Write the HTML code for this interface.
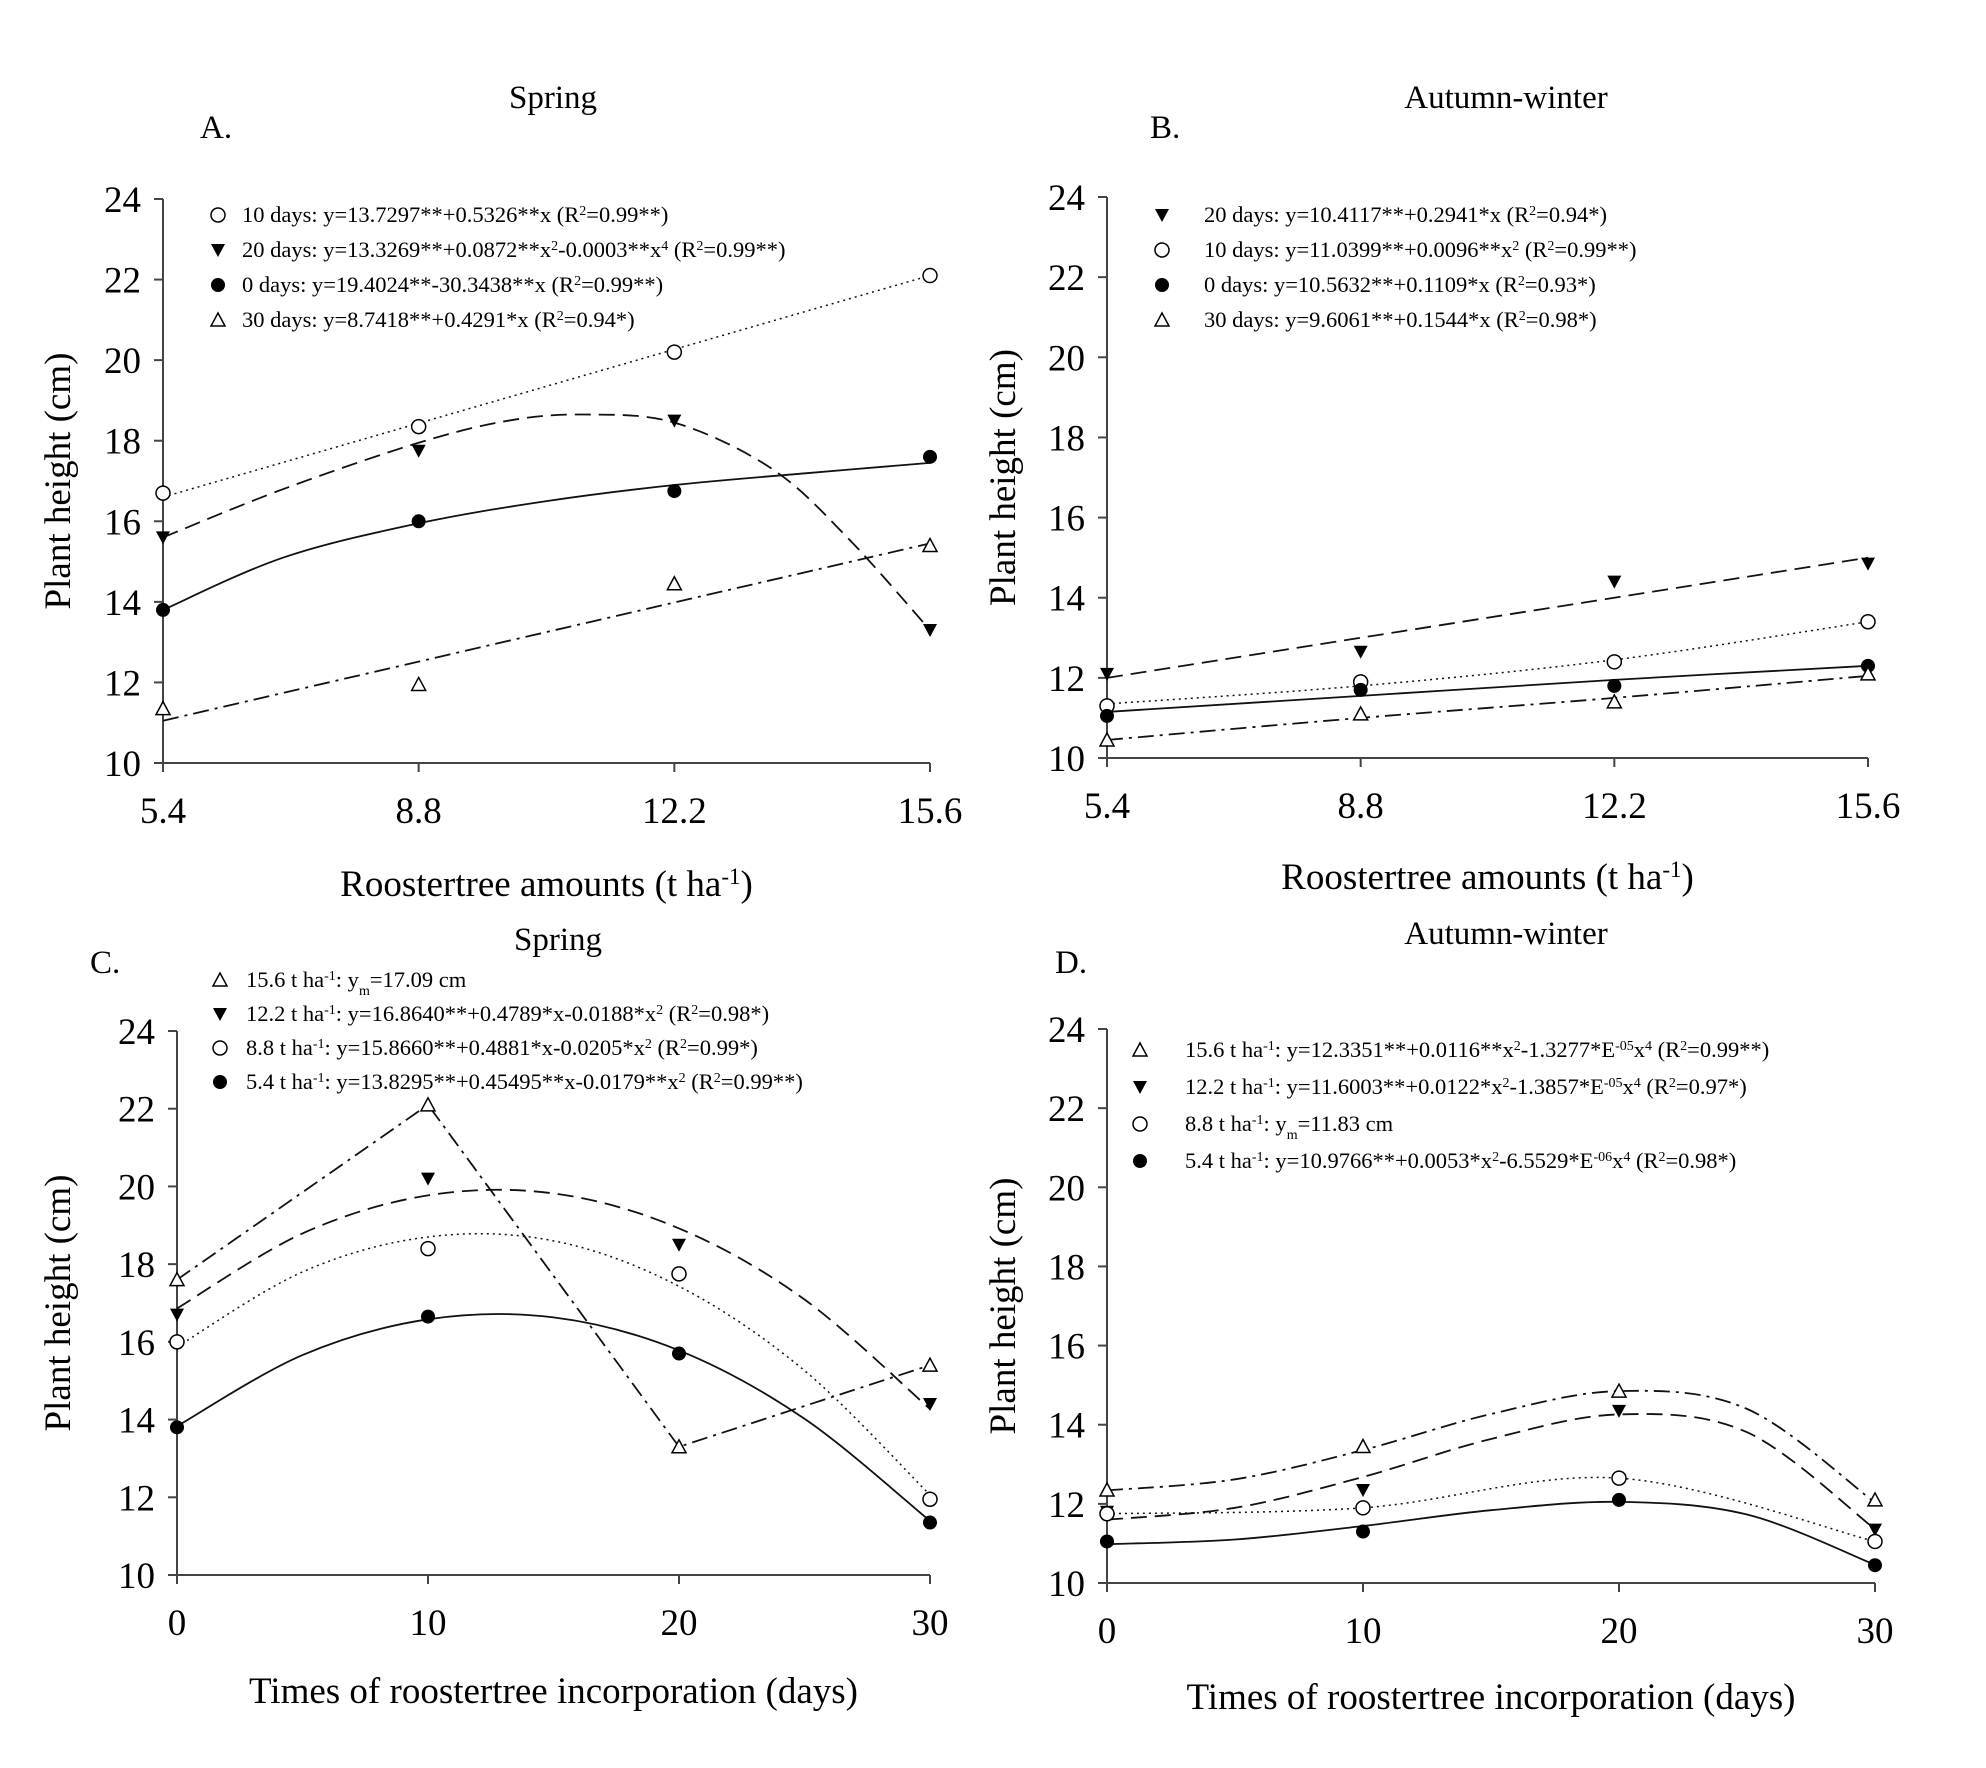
<!DOCTYPE html>
<html><head><meta charset="utf-8"><style>
html,body{margin:0;padding:0;background:#fff;}
svg{display:block;font-family:"Liberation Serif",serif;}
</style></head><body>
<svg id="fig" width="1986" height="1768" viewBox="0 0 1986 1768" xmlns="http://www.w3.org/2000/svg"></svg>
<script>
// ---------- Panel A data ----------
const aX = [5.4, 8.8, 12.2, 15.6];
const a10 = [16.7, 18.35, 20.2, 22.1];
const a20 = [15.6, 17.75, 18.5, 13.3];
const a0 = [13.8, 16.0, 16.75, 17.6];
const a30 = [11.35, 11.95, 14.45, 15.4];
const a10fitX = [5.4, 15.6], a10fit = [16.6, 22.1];
const a20fitX = [5.4, 7, 8.8, 10, 11, 12.2, 13.5, 14.5, 15.6], a20fit = [15.6, 16.8, 17.95, 18.5, 18.65, 18.45, 17.3, 15.6, 13.3];
const a0fitX = [5.4, 7, 8.8, 10.5, 12.2, 14, 15.6], a0fit = [13.8, 15.1, 15.95, 16.5, 16.9, 17.2, 17.45];
const a30fitX = [5.4, 15.6], a30fit = [11.05, 15.45];
// ---------- Panel B data ----------
const b20 = [12.1, 12.65, 14.4, 14.85];
const b10 = [11.3, 11.9, 12.4, 13.4];
const b0 = [11.05, 11.7, 11.8, 12.3];
const b30 = [10.45, 11.1, 11.4, 12.1];
const b20fit = [12.0, 13.0, 14.0, 15.0];
const b10fit = [11.35, 11.8, 12.45, 13.4];
const b0fit = [11.15, 11.55, 11.95, 12.3];
const b30fit = [10.45, 11.0, 11.5, 12.05];
// ---------- Panel C data ----------
const cX = [0, 10, 20, 30];
const c156 = [17.6, 22.1, 13.3, 15.4];
const c122 = [16.7, 20.2, 18.5, 14.4];
const c88 = [16.0, 18.4, 17.75, 11.95];
const c54 = [13.8, 16.65, 15.7, 11.35];
const fitX7 = [0, 5, 10, 15, 20, 25, 30];
const c122fit = [16.86, 18.79, 19.77, 19.82, 18.92, 17.09, 14.27];
const c88fit = [15.87, 17.80, 18.70, 18.60, 17.43, 15.26, 12.06];
const c54fit = [13.83, 15.66, 16.58, 16.63, 15.78, 14.02, 11.39];
// ---------- Panel D data ----------
const d156 = [12.35, 13.45, 14.85, 12.1];
const d122 = [11.8, 12.35, 14.35, 11.35];
const d88 = [11.75, 11.9, 12.65, 11.05];
const d54 = [11.05, 11.3, 12.1, 10.45];
const d156fit = [12.34, 12.62, 13.36, 14.27, 14.85, 14.40, 12.03];
const d122fit = [11.60, 11.90, 12.68, 13.64, 14.26, 13.81, 11.36];
const d54fit = [10.98, 11.10, 11.44, 11.84, 12.05, 11.73, 10.46];
const yTicks = [10, 12, 14, 16, 18, 20, 22, 24];
const aTickLabels = ['5.4', '8.8', '12.2', '15.6'];
const cTickLabels = ['0', '10', '20', '30'];

const NS = 'http://www.w3.org/2000/svg';
const svg = document.getElementById('fig');
function el(tag, attrs, parent) {
  const e = document.createElementNS(NS, tag);
  for (const k in attrs) e.setAttribute(k, attrs[k]);
  (parent || svg).appendChild(e);
  return e;
}
const DASH = { solid: '', dotted: '2,4', dashed: '16,8', dashdot: '16,6,3,6' };

function linePath(pts) {
  return 'M' + pts.map(p => p[0].toFixed(1) + ',' + p[1].toFixed(1)).join(' L');
}
function spline(pts) {
  if (pts.length < 3) return linePath(pts);
  let d = 'M' + pts[0][0] + ',' + pts[0][1];
  for (let i = 0; i < pts.length - 1; i++) {
    const p0 = pts[Math.max(0, i - 1)], p1 = pts[i], p2 = pts[i + 1], p3 = pts[Math.min(pts.length - 1, i + 2)];
    const c1 = [p1[0] + (p2[0] - p0[0]) / 6, p1[1] + (p2[1] - p0[1]) / 6];
    const c2 = [p2[0] - (p3[0] - p1[0]) / 6, p2[1] - (p3[1] - p1[1]) / 6];
    d += ' C' + c1.join(',') + ' ' + c2.join(',') + ' ' + p2.join(',');
  }
  return d;
}

function marker(g, type, x, y) {
  let m;
  if (type === 'circleOpen') m = el('circle', { cx: x, cy: y, r: 7, fill: '#fff', stroke: '#000', 'stroke-width': 1.5 }, g);
  else if (type === 'circleFill') m = el('circle', { cx: x, cy: y, r: 7, fill: '#000' }, g);
  else if (type === 'triDown') m = el('polygon', { points: `${x - 7},${y - 6} ${x + 7},${y - 6} ${x},${y + 7}`, fill: '#000' }, g);
  else m = el('polygon', { points: `${x - 7},${y + 6} ${x + 7},${y + 6} ${x},${y - 7}`, fill: '#fff', stroke: '#000', 'stroke-width': 1.5 }, g);
  return m;
}

function panel(cfg) {
  const g = el('g', {});
  
  
  const sx = v => cfg.x0 + (v - cfg.xmin) / (cfg.xmax - cfg.xmin) * (cfg.x1 - cfg.x0);
  const sy = v => cfg.yb + (v - 10) / 14 * (cfg.yt - cfg.yb);
  const ax = el('path', { d: `M${cfg.x0},${cfg.yt} L${cfg.x0},${cfg.yb} L${cfg.x1},${cfg.yb}`, fill: 'none', stroke: '#444', 'stroke-width': 2 }, g);
  
  
  yTicks.forEach(t => {
    el('line', { x1: cfg.x0 - 9, x2: cfg.x0, y1: sy(t), y2: sy(t), stroke: '#444', 'stroke-width': 2 }, g);
    const tl = el('text', { x: cfg.x0 - 22, y: sy(t) + 13, 'font-size': 37, 'text-anchor': 'end' }, g);
    tl.textContent = t;
    
    
  });
  cfg.xVals.forEach((v, i) => {
    el('line', { x1: sx(v), x2: sx(v), y1: cfg.yb, y2: cfg.yb + 9, stroke: '#444', 'stroke-width': 2 }, g);
    const tl = el('text', { x: sx(v), y: cfg.yb + 60, 'font-size': 37, 'text-anchor': 'middle' }, g);
    tl.textContent = cfg.xLabels[i];
    
    
  });
  cfg.series.forEach(s => {
    const pts = s.fitX.map((v, i) => [sx(v), sy(s.fit[i])]);
    const p = el('path', { d: s.linear ? linePath(pts) : spline(pts), fill: 'none', stroke: '#111', 'stroke-width': s.style === 'dotted' ? 1.5 : 1.8, 'stroke-dasharray': DASH[s.style] }, g);
    
    
  });
  cfg.series.forEach(s => {
    cfg.xVals.forEach((v, i) => {
      const m = marker(g, s.marker, sx(v), sy(s.pts[i]));
      
      
    });
  });
  cfg.legend.forEach((L, i) => {
    const y = cfg.legY + i * cfg.legDy;
    const m = marker(g, L.marker, cfg.legMx, y);
    
    
    const t = el('text', { x: cfg.legTx, y: y + 7, 'font-size': 22.5 }, g);
    t.innerHTML = L.html;
    
    
  });
  const tt = el('text', { x: cfg.titleX, y: cfg.titleY, 'font-size': 33, 'text-anchor': 'middle' }, g);
  tt.textContent = cfg.title;
  
  
  const lt = el('text', { x: cfg.letterX, y: cfg.letterY, 'font-size': 33 }, g);
  lt.textContent = cfg.letter;
  
  
  const xt = el('text', { x: (cfg.x0 + cfg.x1) / 2, y: cfg.xTitleY, 'font-size': 37, 'text-anchor': 'middle' }, g);
  xt.innerHTML = cfg.xTitle;
  
  
  const cy = (cfg.yt + cfg.yb) / 2;
  const yt = el('text', { x: cfg.yTitleX, y: cy, 'font-size': 37, 'text-anchor': 'middle', transform: `rotate(-90 ${cfg.yTitleX} ${cy})` }, g);
  yt.textContent = 'Plant height (cm)';
  
  
}
const sup = s => `<tspan baseline-shift="super" font-size="14">${s}</tspan>`;
const sub = s => `<tspan baseline-shift="sub" font-size="14">${s}</tspan>`;
const amountTitle = 'Roostertree amounts (t ha<tspan baseline-shift="super" font-size="23">-1</tspan>)';
const timeTitle = 'Times of roostertree incorporation (days)';

panel({ name: 'panel-a', x0: 163, x1: 930, xmin: 5.4, xmax: 15.6, yt: 199, yb: 763, xVals: aX, xLabels: aTickLabels,
  series: [
    { key: 'days-10', pts: a10, fitX: a10fitX, fit: a10fit, style: 'dotted', marker: 'circleOpen' },
    { key: 'days-20', pts: a20, fitX: a20fitX, fit: a20fit, style: 'dashed', marker: 'triDown' },
    { key: 'days-0', pts: a0, fitX: a0fitX, fit: a0fit, style: 'solid', marker: 'circleFill' },
    { key: 'days-30', pts: a30, fitX: a30fitX, fit: a30fit, style: 'dashdot', marker: 'triUp' }],
  legend: [
    { marker: 'circleOpen', html: '10 days: y=13.7297**+0.5326**x (R' + sup('2') + '=0.99**)' },
    { marker: 'triDown', html: '20 days: y=13.3269**+0.0872**x' + sup('2') + '-0.0003**x' + sup('4') + ' (R' + sup('2') + '=0.99**)' },
    { marker: 'circleFill', html: '0 days: y=19.4024**-30.3438**x (R' + sup('2') + '=0.99**)' },
    { marker: 'triUp', html: '30 days: y=8.7418**+0.4291*x (R' + sup('2') + '=0.94*)' }],
  legY: 215, legDy: 35, legMx: 218, legTx: 242,
  title: 'Spring', titleX: 553, titleY: 108, letter: 'A.', letterX: 200, letterY: 138,
  xTitle: amountTitle, xTitleY: 896, yTitleX: 70 });

panel({ name: 'panel-b', x0: 1107, x1: 1868, xmin: 5.4, xmax: 15.6, yt: 197, yb: 758, xVals: aX, xLabels: aTickLabels,
  series: [
    { key: 'days-20', pts: b20, fitX: aX, fit: b20fit, style: 'dashed', marker: 'triDown' },
    { key: 'days-10', pts: b10, fitX: aX, fit: b10fit, style: 'dotted', marker: 'circleOpen' },
    { key: 'days-0', pts: b0, fitX: aX, fit: b0fit, style: 'solid', marker: 'circleFill' },
    { key: 'days-30', pts: b30, fitX: aX, fit: b30fit, style: 'dashdot', marker: 'triUp' }],
  legend: [
    { marker: 'triDown', html: '20 days: y=10.4117**+0.2941*x (R' + sup('2') + '=0.94*)' },
    { marker: 'circleOpen', html: '10 days: y=11.0399**+0.0096**x' + sup('2') + ' (R' + sup('2') + '=0.99**)' },
    { marker: 'circleFill', html: '0 days: y=10.5632**+0.1109*x (R' + sup('2') + '=0.93*)' },
    { marker: 'triUp', html: '30 days: y=9.6061**+0.1544*x (R' + sup('2') + '=0.98*)' }],
  legY: 215, legDy: 35, legMx: 1162, legTx: 1204,
  title: 'Autumn-winter', titleX: 1506, titleY: 108, letter: 'B.', letterX: 1150, letterY: 138,
  xTitle: amountTitle, xTitleY: 889, yTitleX: 1015 });

panel({ name: 'panel-c', x0: 177, x1: 930, xmin: 0, xmax: 30, yt: 1031, yb: 1575, xVals: cX, xLabels: cTickLabels,
  series: [
    { key: 't15-6', pts: c156, fitX: cX, fit: c156, style: 'dashdot', marker: 'triUp', linear: true },
    { key: 't12-2', pts: c122, fitX: fitX7, fit: c122fit, style: 'dashed', marker: 'triDown' },
    { key: 't8-8', pts: c88, fitX: fitX7, fit: c88fit, style: 'dotted', marker: 'circleOpen' },
    { key: 't5-4', pts: c54, fitX: fitX7, fit: c54fit, style: 'solid', marker: 'circleFill' }],
  legend: [
    { marker: 'triUp', html: '15.6 t ha' + sup('-1') + ': y' + sub('m') + '=17.09 cm' },
    { marker: 'triDown', html: '12.2 t ha' + sup('-1') + ': y=16.8640**+0.4789*x-0.0188*x' + sup('2') + ' (R' + sup('2') + '=0.98*)' },
    { marker: 'circleOpen', html: '8.8 t ha' + sup('-1') + ': y=15.8660**+0.4881*x-0.0205*x' + sup('2') + ' (R' + sup('2') + '=0.99*)' },
    { marker: 'circleFill', html: '5.4 t ha' + sup('-1') + ': y=13.8295**+0.45495**x-0.0179**x' + sup('2') + ' (R' + sup('2') + '=0.99**)' }],
  legY: 980, legDy: 34, legMx: 220, legTx: 246,
  title: 'Spring', titleX: 558, titleY: 950, letter: 'C.', letterX: 90, letterY: 973,
  xTitle: timeTitle, xTitleY: 1703, yTitleX: 70 });

panel({ name: 'panel-d', x0: 1107, x1: 1875, xmin: 0, xmax: 30, yt: 1029, yb: 1583, xVals: cX, xLabels: cTickLabels,
  series: [
    { key: 't15-6', pts: d156, fitX: fitX7, fit: d156fit, style: 'dashdot', marker: 'triUp' },
    { key: 't12-2', pts: d122, fitX: fitX7, fit: d122fit, style: 'dashed', marker: 'triDown' },
    { key: 't8-8', pts: d88, fitX: cX, fit: d88, style: 'dotted', marker: 'circleOpen' },
    { key: 't5-4', pts: d54, fitX: fitX7, fit: d54fit, style: 'solid', marker: 'circleFill' }],
  legend: [
    { marker: 'triUp', html: '15.6 t ha' + sup('-1') + ': y=12.3351**+0.0116**x' + sup('2') + '-1.3277*E' + sup('-05') + 'x' + sup('4') + ' (R' + sup('2') + '=0.99**)' },
    { marker: 'triDown', html: '12.2 t ha' + sup('-1') + ': y=11.6003**+0.0122*x' + sup('2') + '-1.3857*E' + sup('-05') + 'x' + sup('4') + ' (R' + sup('2') + '=0.97*)' },
    { marker: 'circleOpen', html: '8.8 t ha' + sup('-1') + ': y' + sub('m') + '=11.83 cm' },
    { marker: 'circleFill', html: '5.4 t ha' + sup('-1') + ': y=10.9766**+0.0053*x' + sup('2') + '-6.5529*E' + sup('-06') + 'x' + sup('4') + ' (R' + sup('2') + '=0.98*)' }],
  legY: 1050, legDy: 37, legMx: 1140, legTx: 1185,
  title: 'Autumn-winter', titleX: 1506, titleY: 944, letter: 'D.', letterX: 1055, letterY: 973,
  xTitle: timeTitle, xTitleY: 1709, yTitleX: 1015 });
</script>
</body></html>
